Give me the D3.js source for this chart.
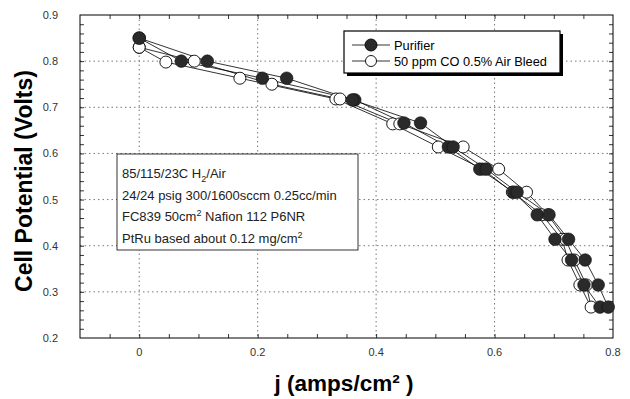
<!DOCTYPE html>
<html>
<head>
<meta charset="utf-8">
<script src="https://cdn.jsdelivr.net/npm/d3@7"></script>
<style>
  body { margin: 0; background: #fff; }
  svg { display: block; font-family: "Liberation Sans", Arial, sans-serif; }
</style>
</head>
<body>
<div id="chart"></div>
<script>
// current density (A/cm2) and cell voltage, forward sweep then back
const purifierJ = [0, 0.071, 0.208, 0.364, 0.447, 0.522, 0.575, 0.632, 0.672, 0.702, 0.73, 0.751, 0.778,
                   0.792, 0.775, 0.753, 0.725, 0.692, 0.638, 0.586, 0.53, 0.475, 0.36, 0.249, 0.115, 0];
const purifierV = [0.85, 0.80, 0.763, 0.716, 0.666, 0.614, 0.566, 0.516, 0.467, 0.414, 0.369, 0.315, 0.267,
                   0.267, 0.315, 0.369, 0.414, 0.467, 0.516, 0.566, 0.614, 0.666, 0.716, 0.763, 0.80, 0.85];
const bleedJ = [0, 0.045, 0.17, 0.332, 0.428, 0.505, 0.58, 0.63, 0.68, 0.714, 0.724, 0.744, 0.763,
                0.755, 0.735, 0.72, 0.69, 0.654, 0.607, 0.547, 0.44, 0.339, 0.224, 0.093, 0];
const bleedV = [0.83, 0.798, 0.763, 0.718, 0.664, 0.614, 0.566, 0.516, 0.467, 0.414, 0.369, 0.315, 0.267,
                0.315, 0.369, 0.414, 0.467, 0.516, 0.566, 0.614, 0.664, 0.718, 0.75, 0.80, 0.83];
const seriesNames = ["Purifier", "50 ppm CO 0.5% Air Bleed"];
const xTicks = [0, 0.2, 0.4, 0.6, 0.8];
const yTicks = [0.2, 0.3, 0.4, 0.5, 0.6, 0.7, 0.8, 0.9];

const width = 630, height = 399;
const margin = { top: 15, right: 17, bottom: 61, left: 80 };
const iw = width - margin.left - margin.right;
const ih = height - margin.top - margin.bottom;

const svg = d3.select("#chart").append("svg")
  .attr("width", width).attr("height", height);

const x = d3.scaleLinear().domain([-0.1, 0.8]).range([0, iw]);
const y = d3.scaleLinear().domain([0.2, 0.9]).range([ih, 0]);

const g = svg.append("g").attr("transform", `translate(${margin.left},${margin.top})`);

// dotted grid
g.selectAll(".gx").data(xTicks.filter(d => d > -0.1 && d < 0.8)).enter().append("line")
  .attr("x1", d => x(d)).attr("x2", d => x(d)).attr("y1", 0).attr("y2", ih)
  .attr("stroke", "#555").attr("stroke-width", 0.8).attr("stroke-dasharray", "1.5,3");
g.selectAll(".gy").data(yTicks.filter(d => d > 0.2 && d < 0.9)).enter().append("line")
  .attr("y1", d => y(d)).attr("y2", d => y(d)).attr("x1", 0).attr("x2", iw)
  .attr("stroke", "#555").attr("stroke-width", 0.8).attr("stroke-dasharray", "1.5,3");

// inward ticks on all four sides
const xMinor = d3.range(-0.05, 0.8, 0.05);
const yMinor = d3.range(0.22, 0.9, 0.02);
function tickAxis(axisFn, scale, vals, size) {
  return axisFn(scale).tickValues(vals).tickSize(size).tickFormat("");
}
const axStyle = sel => {
  sel.select(".domain").remove();
  sel.selectAll("line").attr("stroke", "#000").attr("stroke-width", 0.8);
};
g.append("g").attr("transform", `translate(0,${ih})`).call(tickAxis(d3.axisTop, x, xMinor, 4)).call(axStyle);
g.append("g").call(tickAxis(d3.axisBottom, x, xMinor, 4)).call(axStyle);
g.append("g").call(tickAxis(d3.axisRight, y, yMinor, 4)).call(axStyle);
g.append("g").attr("transform", `translate(${iw},0)`).call(tickAxis(d3.axisLeft, y, yMinor, 4)).call(axStyle);

g.append("rect").attr("width", iw).attr("height", ih)
  .attr("fill", "none").attr("stroke", "#000").attr("stroke-width", 1);

// tick labels
g.selectAll(".xl").data(xTicks).enter().append("text")
  .attr("x", d => x(d)).attr("y", ih + 18)
  .attr("text-anchor", "middle").attr("font-size", 11).attr("fill", "#333")
  .text(d => d3.format("")(d));
g.selectAll(".yl").data(yTicks).enter().append("text")
  .attr("x", -22).attr("y", d => y(d) + 4)
  .attr("text-anchor", "end").attr("font-size", 11).attr("fill", "#333")
  .text(d => d3.format(".1f")(d));

// axis titles
svg.append("text")
  .attr("transform", `translate(32,181) rotate(-90)`)
  .attr("text-anchor", "middle").attr("font-size", 23).attr("font-weight", "bold")
  .text("Cell Potential (Volts)");
svg.append("text")
  .attr("x", 344).attr("y", 391)
  .attr("text-anchor", "middle").attr("font-size", 22.5).attr("font-weight", "bold")
  .text("j (amps/cm\u00b2 )");

// series
const purifier = purifierJ.map((d, i) => ({ j: d, v: purifierV[i] }));
const bleed = bleedJ.map((d, i) => ({ j: d, v: bleedV[i] }));
const line = d3.line().x(d => x(d.j)).y(d => y(d.v));

[bleed, purifier].forEach(data => {
  g.append("path").datum(data).attr("d", line)
    .attr("fill", "none").attr("stroke", "#000").attr("stroke-width", 0.8);
});
g.selectAll(".pb").data(bleed).enter().append("circle")
  .attr("cx", d => x(d.j)).attr("cy", d => y(d.v)).attr("r", 6)
  .attr("fill", "#fff").attr("stroke", "#000").attr("stroke-width", 0.9);
g.selectAll(".pp").data(purifier).enter().append("circle")
  .attr("cx", d => x(d.j)).attr("cy", d => y(d.v)).attr("r", 6.3)
  .attr("fill", "#2a2a2a").attr("stroke", "#111").attr("stroke-width", 0.6);

// legend
const lg = svg.append("g").attr("transform", "translate(344,31)");
lg.append("rect").attr("x", 3).attr("y", 3).attr("width", 216).attr("height", 42).attr("fill", "#000");
lg.append("rect").attr("width", 216).attr("height", 42).attr("fill", "#fff").attr("stroke", "#000").attr("stroke-width", 1.2);
seriesNames.forEach((name, i) => {
  const yy = 14 + i * 16;
  lg.append("line").attr("x1", 8).attr("x2", 46).attr("y1", yy).attr("y2", yy)
    .attr("stroke", "#000").attr("stroke-width", 0.8);
  lg.append("circle").attr("cx", 27).attr("cy", yy).attr("r", i === 0 ? 6 : 5.5)
    .attr("fill", i === 0 ? "#2a2a2a" : "#fff").attr("stroke", "#000").attr("stroke-width", 0.9);
  lg.append("text").attr("x", 50).attr("y", yy + 4.5).attr("font-size", 12.8).text(name);
});

// annotation box
const ab = svg.append("g").attr("transform", "translate(117,154)");
ab.append("rect").attr("width", 241).attr("height", 96)
  .attr("fill", "#fff").attr("stroke", "#000").attr("stroke-width", 0.8);
const notes = [
  [["85/115/23C H", 0], ["2", 4], ["/Air", 0]],
  [["24/24 psig 300/1600sccm 0.25cc/min", 0]],
  [["FC839 50cm", 0], ["2", -5], [" Nafion 112 P6NR", 0]],
  [["PtRu based about 0.12 mg/cm", 0], ["2", -5]]
];
notes.forEach((parts, i) => {
  const t = ab.append("text").attr("x", 5).attr("y", 24 + i * 21.5)
    .attr("font-size", 13).attr("fill", "#222");
  let prev = 0;
  parts.forEach(([s, off]) => {
    t.append("tspan").attr("dy", off - prev)
      .attr("font-size", off !== 0 ? 9 : 13).text(s);
    prev = off;
  });
});
</script>
</body>
</html>
